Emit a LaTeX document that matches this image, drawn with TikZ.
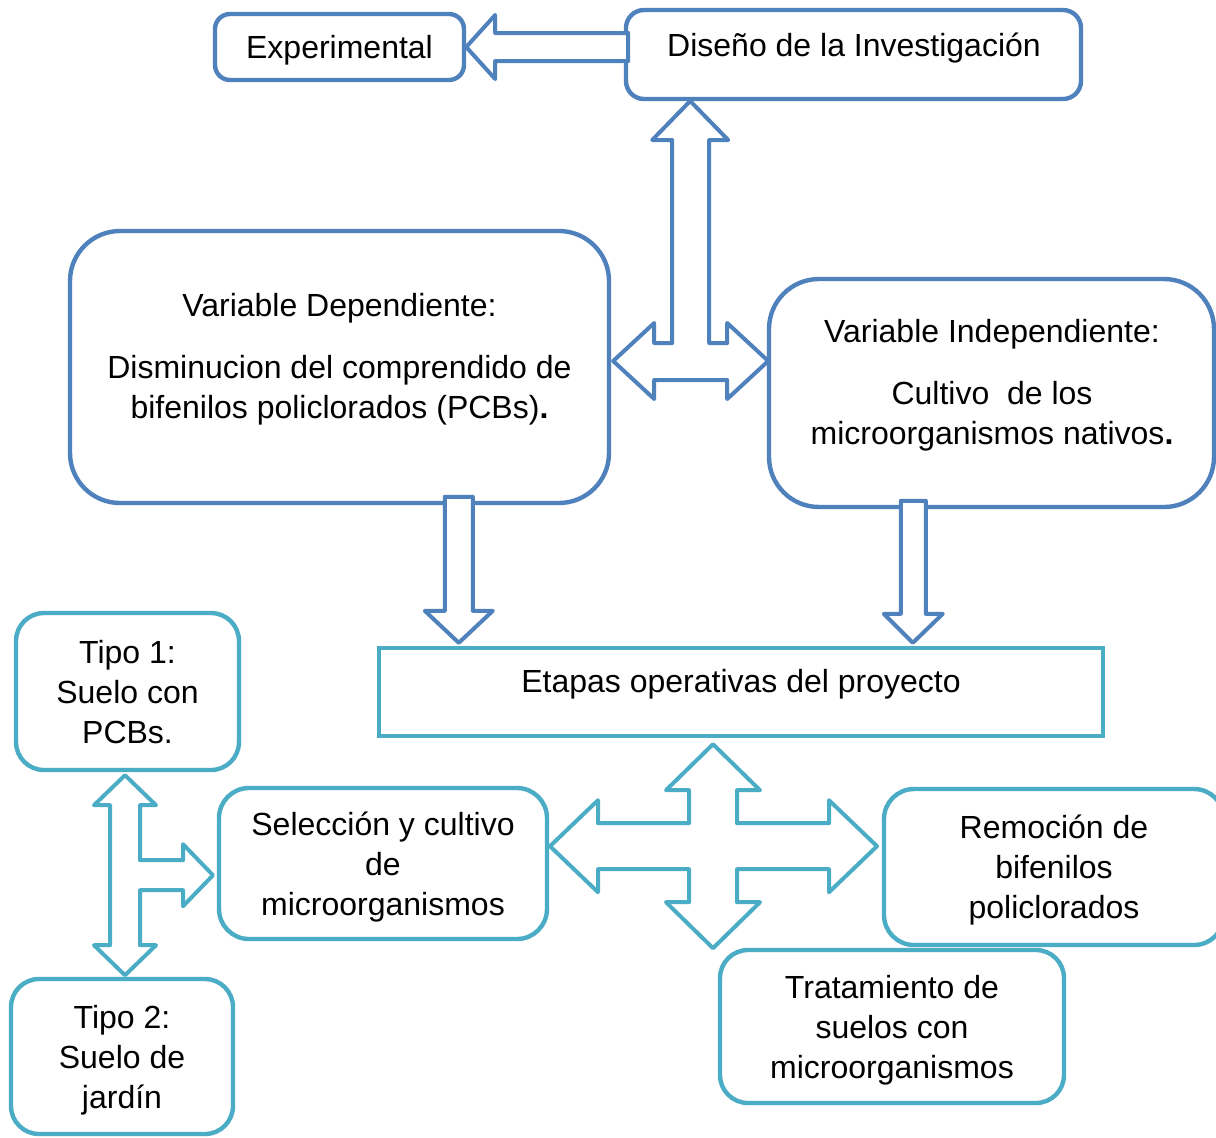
\documentclass[tikz,border=0pt]{standalone}
\usepackage{fontspec}
\setmainfont{Liberation Sans}
\usetikzlibrary{calc}
\definecolor{cblue}{HTML}{4F81BD}
\definecolor{cteal}{HTML}{4BACC6}
\begin{document}
\begin{tikzpicture}[x=0.5pt,y=-0.5pt,
  txt/.style={align=center,font=\fontsize{16}{20}\selectfont,inner sep=0pt},
  bbox/.style={draw=cblue,line width=2.2pt,fill=white,rounded corners=#1,inner sep=0pt,
    align=center,font=\fontsize{16}{20}\selectfont,text depth=0pt},
  tbox/.style={draw=cteal,line width=2.2pt,fill=white,rounded corners=#1,inner sep=0pt,
    align=center,font=\fontsize{16}{20}\selectfont,text depth=0pt},
  sz/.style 2 args={minimum width=#1,minimum height=#2},
  barrow/.style={draw=cblue,line width=2pt,fill=white,line join=round},
  tarrow/.style={draw=cteal,line width=2pt,fill=white,line join=round}]
\useasboundingbox (0,0) rectangle (1216,1137);
\fill[white] (0,0) rectangle (1216,1137);

% boxes
\node[bbox=7.5pt,sz={124.5pt}{33pt}] (exp) at (339.5,47) {Experimental};
\node[bbox=9pt,sz={227.5pt}{44.5pt}] (dis) at (853.5,54.5) {};
\node[txt,anchor=base] (dist) at (854,56) {Diseño de la Investigación};
\node[bbox=25pt,sz={269.5pt}{136pt}] (vdep) at (339.5,367) {};
\node[txt,anchor=base] (vdept) at (339.5,418) {Variable Dependiente:\\[11pt]Disminucion del comprendido de\\bifenilos policlorados (PCBs)\textbf{.}};
\node[bbox=25pt,sz={222.5pt}{114pt}] (vind) at (991.5,393) {};
\node[txt,anchor=base] (vindt) at (992,444) {Variable Independiente:\\[11pt]Cultivo~ de los\\microorganismos nativos\textbf{.}};
\node[tbox=0pt,sz={362pt}{44pt}] (eta) at (741,692) {};
\node[txt,anchor=base] (etat) at (741,692) {Etapas operativas del proyecto};
\node[tbox=14pt,sz={111.5pt}{78.5pt}] (t1) at (127.5,691.5) {Tipo 1:\\Suelo con\\PCBs.};
\node[tbox=14pt,sz={111pt}{77.5pt}] (t2) at (122,1056.5) {Tipo 2:\\Suelo de\\jardín};
\node[tbox=15pt,sz={164pt}{75.5pt}] (sel) at (383,863.5) {Selección y cultivo\\de\\microorganismos};
\node[tbox=15pt,sz={170pt}{78pt}] (rem) at (1054,867) {Remoción de\\bifenilos\\policlorados};
\node[tbox=14pt,sz={172pt}{76.5pt}] (tra) at (892,1026.5) {Tratamiento de\\suelos con\\microorganismos};

% block arrows
\draw[barrow] (exp.east) -- ++(29,-32) -- ++(0,18) -- ++(133,0) -- ++(0,28)
  -- ++(-133,0) -- ++(0,18) -- cycle;
\draw[barrow] ($(vdep.east)+(2,-6)$) -- ++(41,-38) -- ++(0,20) -- ++(18,0)
  -- ++(0,-203) -- ++(-20,0) -- ++(38,-39) -- ++(38,39) -- ++(-19,0)
  -- ++(0,203) -- ++(18,0) -- ++(0,-20) -- ++(41,38) -- ++(-41,38)
  -- ++(0,-19) -- ++(-73,0) -- ++(0,19) -- cycle;
\draw[barrow] ($(eta.north west)+(82,-3)$) -- ++(34,-32) -- ++(-20,0) -- ++(0,-114)
  -- ++(-28,0) -- ++(0,114) -- ++(-20,0) -- cycle;
\draw[barrow] ($(eta.north west)+(536,-3)$) -- ++(30,-29) -- ++(-17,0) -- ++(0,-113)
  -- ++(-25,0) -- ++(0,113) -- ++(-17,0) -- cycle;
\draw[tarrow] ($(t1.south)+(-2.5,3)$) -- ++(31,30) -- ++(-16,0) -- ++(0,55) -- ++(43,0)
  -- ++(0,-16) -- ++(30,31) -- ++(-30,31) -- ++(0,-16) -- ++(-43,0) -- ++(0,55)
  -- ++(16,0) -- ++(-31,30) -- ++(-31,-30) -- ++(16,0) -- ++(0,-140) -- ++(-16,0) -- cycle;
\draw[tarrow] ($(eta.south)+(-28,6)$) -- ++(47,46) -- ++(-23,0) -- ++(0,33) -- ++(92,0)
  -- ++(0,-23) -- ++(48,46) -- ++(-48,46) -- ++(0,-23) -- ++(-92,0) -- ++(0,33)
  -- ++(23,0) -- ++(-47,46) -- ++(-47,-46) -- ++(23,0) -- ++(0,-33) -- ++(-91,0)
  -- ++(0,23) -- ++(-48,-46) -- ++(48,-46) -- ++(0,23) -- ++(91,0) -- ++(0,-33)
  -- ++(-23,0) -- cycle;
\end{tikzpicture}
\end{document}
